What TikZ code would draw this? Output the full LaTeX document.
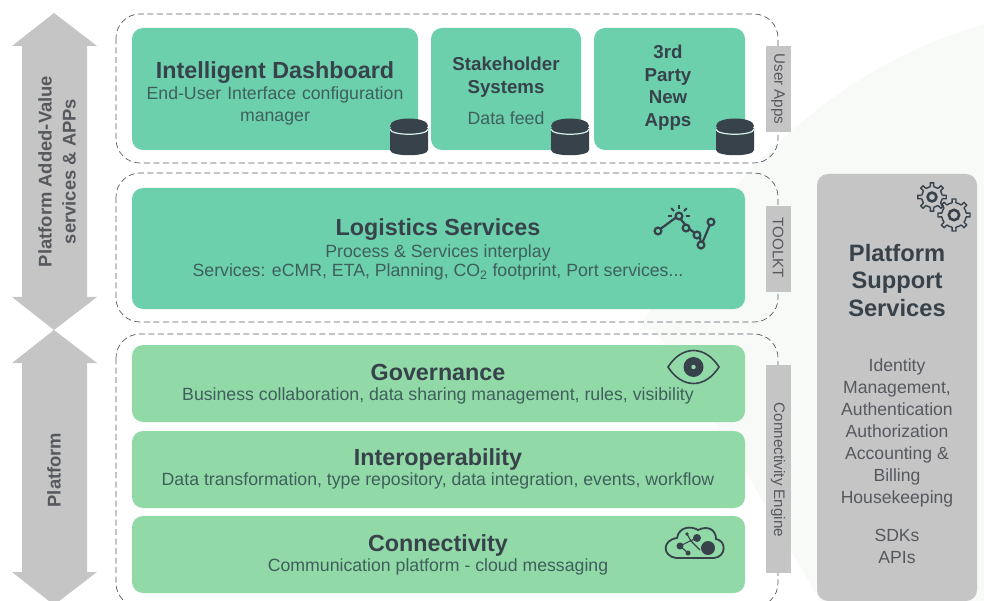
\documentclass[tikz,border=0pt]{standalone}
\usepackage{fontspec}
\setmainfont{Liberation Sans}
\usepackage{tikz}
\definecolor{tealbox}{HTML}{6CD0AC}
\definecolor{greenbox}{HTML}{92D9A8}
\definecolor{greybox}{HTML}{C6C5C6}
\definecolor{ink}{HTML}{37424A}
\definecolor{subink}{HTML}{3F5F5C}
\definecolor{greyink}{HTML}{55595E}
\definecolor{swoosh}{HTML}{F8FAF8}
\tikzset{
  x=1pt,y=-1pt,
  teal card/.style={fill=tealbox,draw=none,rounded corners=11pt},
  green card/.style={fill=greenbox,draw=none,rounded corners=11pt},
  zone/.style={draw=ink!85,line width=0.7pt,dash pattern=on 6pt off 3.5pt,rounded corners=24pt},
  tag/.style={fill=greybox,draw=none},
  title/.style={font=\bfseries\fontsize{23.3}{27}\selectfont,text=ink,align=center,inner sep=0pt},
  midtitle/.style={font=\bfseries\fontsize{18.7}{22.6}\selectfont,text=ink,align=center,inner sep=0pt},
  subtext/.style={font=\fontsize{17.7}{22}\selectfont,text=subink,align=center,inner sep=0pt},
  tagtext/.style={font=\fontsize{15.2}{17}\selectfont,text=greyink,rotate=-90,inner sep=0pt},
  arrowtext/.style={font=\bfseries\fontsize{18.4}{24}\selectfont,text=greyink,rotate=90,align=center,inner sep=0pt},
  arrowshape/.style={fill=greybox,draw=none},
  dbbody/.style={fill=ink,draw=none},
  icon/.style={draw=ink,line width=2.2pt,fill=none},
}
\newcommand{\dbicon}[2]{%
  \fill[dbbody] (#1-19,#2-9) -- (#1-19,#2+13) .. controls (#1-19,#2+20) and (#1+19,#2+20) .. (#1+19,#2+13) -- (#1+19,#2-9) -- cycle;
  \draw[white!70!tealbox,line width=1.2pt] (#1-19,#2-8) .. controls (#1-19,#2-1) and (#1+19,#2-1) .. (#1+19,#2-8);
  \fill[dbbody] (#1-19,#2-11) .. controls (#1-19,#2-21) and (#1+19,#2-21) .. (#1+19,#2-11) .. controls (#1+19,#2-4) and (#1-19,#2-4) .. (#1-19,#2-11) -- cycle;
}
\newcommand{\gearicon}[3]{%
  \begin{scope}[shift={(#1,#2)}]
    \foreach \a in {0,45,...,315}{\draw[draw=ink,line width=1.4pt,line join=round] (\a-9:#3) -- (\a-7:#3+3.8) -- (\a+7:#3+3.8) -- (\a+9:#3);
      \draw[draw=ink,line width=1.4pt] (\a+9:#3) arc[start angle=\a+9,end angle=\a+36,radius=#3];}
    \draw[ink,line width=2.6pt] (0,0) circle[radius=#3*0.42];
  \end{scope}}
\begin{document}
\begin{tikzpicture}
\useasboundingbox (0,0) rectangle (984,601);
\fill[white] (0,0) rectangle (984,601);
\fill[swoosh] (984,25) .. controls (850,60) and (720,170) .. (640,330) -- (655,330) -- (745,470) -- (820,601) -- (984,601) -- cycle;

% side arrows
\fill[arrowshape] (54,13) -- (97,46) -- (87,46) -- (87,297) -- (97,297) -- (54,330) -- (12,297) -- (22,297) -- (22,46) -- (12,46) -- cycle;
\fill[arrowshape] (54,330) -- (97,363) -- (87,363) -- (87,572) -- (97,572) -- (54,605) -- (12,572) -- (22,572) -- (22,363) -- (12,363) -- cycle;
\node[arrowtext] (arrowtopl) at (57,171.5) {Platform Added-Value\\services \& APPs};
\node[arrowtext] (arrowbotl) at (54,470) {Platform};

% dashed zones
\draw[zone] (116,14) rectangle (778,163);
\draw[zone] (116,173) rectangle (778,322);
\draw[zone] (116,334) rectangle (778,607);

% tags
\node[tag,minimum width=25pt,minimum height=86pt,inner sep=0pt] (tagu) at (778,89) {};
\node[tagtext] at (778,89) {User Apps};
\node[tag,minimum width=25pt,minimum height=86pt,inner sep=0pt] (tagt) at (778,249) {};
\node[tagtext] at (778,248) {TOOLKT};
\node[tag,minimum width=25pt,minimum height=208pt,inner sep=0pt] (tagc) at (778,469) {};
\node[tagtext] at (778,470) {Connectivity Engine};

% top cards
\fill[teal card] (132,28) rectangle (418,150);
\fill[teal card] (431,28) rectangle (581,150);
\fill[teal card] (594,28) rectangle (745,150);
\node[title] (dash) at (275,72.5) {Intelligent Dashboard};
\node[subtext,text width=280pt] (dashsub) at (275,106) {End-User Interface configuration\\manager};
\node[midtitle] (stake) at (506,77) {Stakeholder\\Systems};
\node[subtext] (feed) at (506,118) {Data feed};
\node[midtitle] (third) at (668,87.5) {3rd\\Party\\New\\Apps};
\dbicon{409}{137}
\dbicon{570}{137}
\dbicon{735}{137}

% logistics
\fill[teal card] (132,188) rectangle (745,309);
\node[title] (log) at (438,230) {Logistics Services};
\node[subtext] (logsub) at (438,253) {Process \& Services interplay};
\node[subtext] (logsub2) at (438,272) {Services: eCMR, ETA, Planning, CO$_{\mathrm{2}}$ footprint, Port services...};
% analytics icon
\draw[icon] (659,230) -- (678,216) -- (688,228) -- (700,237) -- (701,246) -- (711,222);
\foreach \p in {(658,231),(679,216),(686,228),(697,235),(701,245),(711,222)}
  \filldraw[draw=ink,line width=2.2pt,fill=tealbox] \p circle[radius=3.4];
\foreach \a in {0,45,90,135,180}
  \draw[ink,line width=1.8pt] (679,216) ++(\a:-7) -- ++(\a:-4);

% green cards
\fill[green card] (132,345) rectangle (745,422);
\fill[green card] (132,431) rectangle (745,508);
\fill[green card] (132,516) rectangle (745,593);
\node[title] (gov) at (438,372.5) {Governance};
\node[subtext] (govsub) at (438,395.5) {Business collaboration, data sharing management, rules, visibility};
\node[title] (int) at (438,459) {Interoperability};
\node[subtext] (intsub) at (438,481) {Data transformation, type repository, data integration, events, workflow};
\node[title] (con) at (438,545) {Connectivity};
\node[subtext] (consub) at (438,567) {Communication platform - cloud messaging};

% eye
\draw[ink,line width=1.6pt] (668,367) .. controls (682,345) and (705,345) .. (719,367) .. controls (705,389) and (682,389) .. (668,367) -- cycle;
\fill[ink] (693.5,367) circle[radius=10];
\fill[greenbox] (693.5,367) circle[radius=2.2];

% cloud
\draw[ink,line width=1.8pt] (676,558) .. controls (662,556) and (662,540) .. (677,538) .. controls (679,526) and (692,526) .. (698,530) .. controls (708,525) and (716,530) .. (716,539) .. controls (727,541) and (726,557) .. (714,558) -- cycle;
\draw[ink,line width=1.1pt] (680,546) -- (690,541) -- (697,538) (687,534) -- (691,541) -- (700,550) (680,546) -- (688,553);
\fill[ink] (708,548) circle[radius=7];
\fill[ink] (697,538) circle[radius=4];
\fill[ink] (680,546) circle[radius=3.5];
\fill[ink] (688,553) circle[radius=2.5];
\fill[ink] (687,534) circle[radius=1.8];

% support panel
\fill[greybox,rounded corners=11pt] (817,174) rectangle (977,601);
\node[font=\bfseries\fontsize{23.7}{27.7}\selectfont,text=ink,align=center,inner sep=0pt] (supp) at (897,280.5) {Platform\\Support\\Services};
\node[font=\fontsize{17.6}{22}\selectfont,text=greyink,align=center,inner sep=0pt] (suppl) at (897,432.5) {Identity\\Management,\\Authentication\\Authorization\\Accounting \&\\Billing\\Housekeeping};
\node[font=\fontsize{17.6}{22}\selectfont,text=greyink,align=center,inner sep=0pt] (supp2) at (897,546) {SDKs\\APIs};
\gearicon{932}{197}{10.5}
\gearicon{954}{215}{12.3}
\end{tikzpicture}
\end{document}
